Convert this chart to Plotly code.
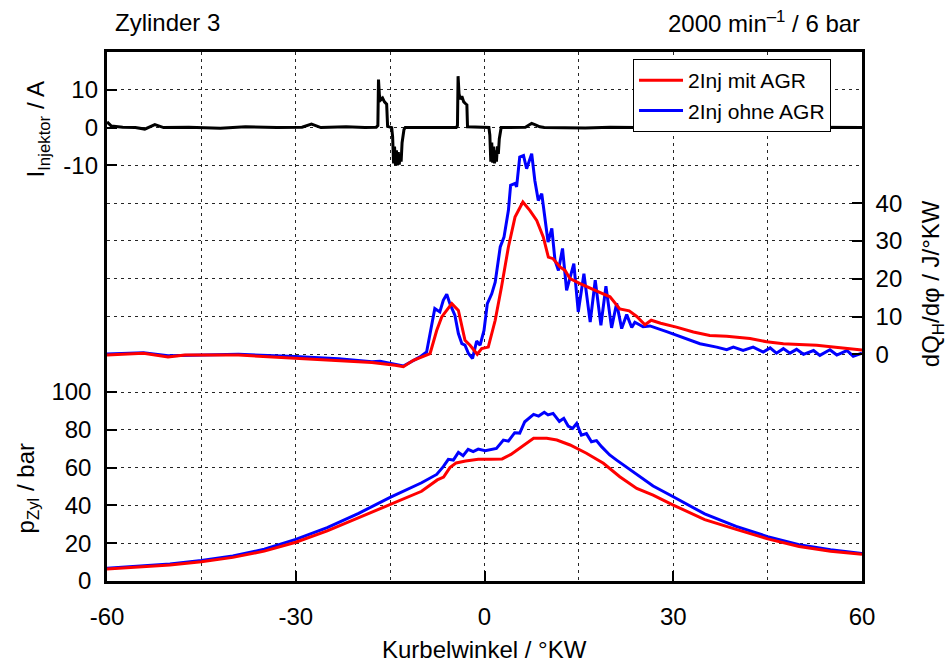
import plotly.graph_objects as go

# ---- Injektorstrom (Zylinder 3) ----
inj_deg = [-60, -59.3, -57.5, -55.5, -54.0, -52.4, -51.0, -47, -42, -38, -33, -29, -27.5, -26, -22, -19,
           -17.2, -16.95, -16.85, -16.7, -16.5, -16.2, -15.9, -15.55, -15.4, -14.75, -14.6, -14.45, -14.3,
           -14.15, -14.0, -13.85, -13.7, -13.55, -13.4, -13.25, -13.1, -12.95, -12.8, -12.6, -9, -6, -4.5,
           -4.3, -4.2, -4.05, -3.85, -3.6, -3.3, -3.0, -2.8, -2.7, -1.0, 0.7, 0.85, 1.0, 1.15, 1.3, 1.45,
           1.6, 1.75, 1.9, 2.05, 2.2, 2.35, 2.5, 2.65, 4, 6.5, 7.2, 7.5, 8.0, 8.8, 9.5, 12, 16, 20, 24, 28,
           33, 38, 42, 45.5, 46.5, 47.5, 48.5, 49.5, 52, 56, 60]
inj_val = [1.5, 0.4, 0.1, 0, -0.4, 0.8, 0, 0.1, -0.2, 0.2, 0, 0.1, 0.9, 0, 0.2, 0,
           0.1, 0.5, 12.7, 8.5, 7.3, 7.8, 6.8, 6.2, 0.3, 0, -2.5, -9.5, -5,
           -10, -6, -10, -6.5, -9.8, -7, -9, -4, -2.5, -0.5, 0, 0, 0.1, 0,
           0.5, 13.6, 9, 7.5, 8.3, 6.8, 6.3, 6.0, 0.2, 0, 0, -2, -9, -4, -9.3, -5,
           -9.5, -6, -9, -5, -7, -3, -1.5, 0, 0, 0.1, 0.8, 1.1, 0.8, 0.2, 0, 0, -0.1, 0.1, 0, 0.1,
           0, -0.1, 0.1, 0, 0.4, -0.2, 0.3, 0, 0.1, 0, 0]

# ---- Heizverlauf dQH/dphi, 2Inj mit AGR ----
dq_mit_deg = [-60, -54.2, -50.3, -47.6, -39.1, -30.1, -23.2, -17.9, -14.2, -12.9, -11.3, -8.65, -7.6, -6.8,
              -5.2, -4.15, -3.1, -2.3, -1.15, -0.45, 0.6, 1.7, 2.7, 3.8, 4.85, 6.1, 7.2, 8.3, 9.35, 10.15,
              10.9, 12.0, 12.8, 13.6, 15.2, 16.8, 18.4, 19.95, 21.5, 23.0, 24.2, 25.5, 26.5, 28.0, 30.5,
              33.2, 35.8, 38.5, 42.2, 44.85, 47.5, 50.0, 52.8, 55.4, 58.1, 60]
dq_mit_val = [-0.2, 0.3, -0.7, -0.2, -0.2, -1.1, -1.7, -2.2, -2.9, -3.3, -1.6, 0.2, 6.3, 9.9,
              13.4, 11.6, 3.7, 2.4, 0.0, 1.5, 1.9, 9.0, 17.8, 28.4, 36.3, 40.3, 38.1, 35.4, 31.0, 25.7,
              25.3, 23.1, 22.2, 20.0, 18.7, 17.4, 16.3, 15.2, 12.0, 11.5, 10.0, 7.8, 9.0, 8.2, 7.2,
              5.9, 5.0, 4.8, 4.2, 3.3, 2.8, 2.6, 2.4, 1.9, 1.5, 1.1]

# ---- Heizverlauf dQH/dphi, 2Inj ohne AGR ----
dq_ohne_deg = [-60, -54.2, -50.3, -39.1, -30.1, -23.2, -17.9, -16.6, -12.9, -10.25, -9.2, -8.4, -7.9, -7.1,
               -6.55, -6.0, -5.5, -4.7, -4.15, -3.6, -3.1, -2.55, -1.9, -1.25, -0.7, -0.08, 0.45, 1.15,
               1.7, 2.5, 3.1, 3.8, 4.15, 4.85, 5.1, 5.6, 6.2, 6.7, 7.5, 8.0, 8.55, 9.1, 9.6, 10.1, 10.7,
               11.2, 11.75, 12.4, 13.05, 13.6, 14.2, 14.9, 15.8, 16.8, 17.6, 18.5, 19.3, 20.2, 21.0, 21.8,
               22.6, 23.4, 23.9, 25.2, 26.3, 28.95, 31.6, 34.25, 36.9, 38.5, 39.55, 41.1, 42.7, 44.3, 45.4,
               46.4, 47.5, 48.55, 49.6, 50.7, 52.3, 53.3, 54.9, 56.0, 57.6, 58.6, 60]
dq_ohne_val = [0.1, 0.4, -0.4, 0.0, -0.6, -1.2, -2.0, -1.85, -3.1, -0.7, 0.6, 8.1, 12.1, 11.2,
               14.3, 15.9, 13.4, 10.3, 5.5, 2.8, 2.4, 0.2, -1.1, 3.5, 2.4, 6.3, 13.4, 16.0,
               19.1, 28.4, 31.0, 38.1, 44.7, 45.2, 44.3, 52.2, 52.6, 49.1, 53.1, 46.0, 40.7, 42.5, 36.3, 29.7, 33.3,
               24.9, 22.2, 28.0, 16.9, 20.4, 24.0, 11.2, 21.3, 8.5, 19.6, 7.7, 18.0, 7.0, 13.5, 6.8,
               10.5, 7.1, 8.5, 7.3, 7.5, 6.0, 4.3, 2.8, 1.9, 1.2, 1.9, 1.0, 1.9, 0.6, 1.7,
               0.3, 1.5, 0.3, 1.3, 0.0, 1.0, -0.3, 1.2, -0.2, 1.0, -0.5, 0.3]

# ---- Zylinderdruck ----
p_mit_deg = [-60, -55, -50, -45, -40, -35, -30, -25, -20, -15, -10, -7.5, -6.5, -5.5, -4.5, -3.0, -1.0,
             1.0, 2.8, 4.2, 5.6, 7.8, 9.9, 11.5, 13.6, 16.2, 18.9, 21.5, 24.2, 26.8, 30.0, 35.0,
             40.0, 45.0, 50.0, 55.0, 60]
p_mit_val = [6.4, 7.3, 8.5, 10.2, 12.5, 15.8, 20.5, 26.5, 33.5, 40.7, 47.5, 53.5, 55.0, 60.0, 62.5, 63.5, 64.4,
             64.4, 64.6, 67.0, 70.2, 75.5, 75.5, 74.6, 72.0, 67.6, 62.3, 55.2, 49.0, 45.5, 40.2, 32.5,
             27.3, 22.3, 18.3, 15.8, 14.1]

p_ohne_deg = [-60, -55, -50, -45, -40, -35, -30, -25, -20, -15, -10, -7.6, -6.55, -5.75, -4.95, -4.15, -3.4,
              -2.6, -1.8, -1.0, 0.1, 1.9, 3.0, 3.8, 4.8, 5.6, 6.4, 7.8, 8.6, 9.5, 10.1, 10.9, 11.9, 12.6,
              13.3, 14.0, 14.65, 15.4, 16.2, 17.0, 17.8, 18.6, 19.9, 21.0, 22.6, 24.7, 26.8, 30.0, 35.0,
              40.0, 45.0, 50.0, 55.0, 60]
p_ohne_val = [6.8, 7.7, 9.0, 10.8, 13.3, 16.8, 22.0, 28.3, 35.8, 44.3, 52.0, 56.4, 60.5, 64.4, 64.0, 68.1, 66.3,
              69.7, 68.5, 69.8, 69.0, 70.2, 74.6, 74.0, 78.5, 78.3, 84.3, 88.2, 87.3, 89.3, 87.9, 88.7, 84.5, 86.1,
              82.0, 80.8, 83.4, 77.2, 78.0, 73.7, 74.3, 71.1, 66.7, 64.0, 60.2, 55.2, 50.3, 44.6, 35.5,
              28.9, 23.5, 19.2, 16.5, 14.6]

x_ticks = [-60, -30, 0, 30, 60]
x_tick_text = ["-60", "-30", "0", "30", "60"]
x_grid_minor = [-45, -15, 15, 45]
p_ticks = [0, 20, 40, 60, 80, 100]
p_grid_minor = [120, 140, 160, 180, 200, 220, 240, 260]
inj_ticks = [-10, 0, 10]
inj_tick_text = ["-10", "0", "10"]
dq_ticks = [0, 10, 20, 30, 40]

RED = "#ff0000"
BLUE = "#0000ff"
FONT = "Liberation Sans, Arial, sans-serif"
FS = 24

fig = go.Figure()

# pressure traces (base axis)
fig.add_trace(go.Scatter(x=p_ohne_deg, y=p_ohne_val, mode="lines", line=dict(color=BLUE, width=3),
                         name="2Inj ohne AGR", legendgroup="ohne", showlegend=False, yaxis="y"))
fig.add_trace(go.Scatter(x=p_mit_deg, y=p_mit_val, mode="lines", line=dict(color=RED, width=3),
                         name="2Inj mit AGR", legendgroup="mit", showlegend=False, yaxis="y"))
# injector current
fig.add_trace(go.Scatter(x=inj_deg, y=inj_val, mode="lines", line=dict(color="black", width=3),
                         name="I Injektor", showlegend=False, yaxis="y2"))
# heat release rate
fig.add_trace(go.Scatter(x=dq_ohne_deg, y=dq_ohne_val, mode="lines", line=dict(color=BLUE, width=3),
                         name="2Inj ohne AGR", legendgroup="ohne", legendrank=2, yaxis="y3"))
fig.add_trace(go.Scatter(x=dq_mit_deg, y=dq_mit_val, mode="lines", line=dict(color=RED, width=3),
                         name="2Inj mit AGR", legendgroup="mit", legendrank=1, yaxis="y3"))

grid = dict(gridcolor="#262626", griddash="3px,4px", gridwidth=1)

fig.update_layout(
    width=948, height=666,
    margin=dict(l=107, r=86, t=52, b=85),
    paper_bgcolor="white", plot_bgcolor="white",
    font=dict(family=FONT, size=FS, color="black"),
    xaxis=dict(range=[-60, 60], tickmode="array", tickvals=x_ticks, ticktext=x_tick_text,
               ticks="inside", ticklen=10,
               tickwidth=2, tickcolor="black", showline=True, linecolor="black", linewidth=2.5,
               mirror=True, showgrid=True, **grid, zeroline=False, ticklabelstandoff=12,
               minor=dict(tickmode="array", tickvals=x_grid_minor, ticks="", showgrid=True, **grid)),
    yaxis=dict(range=[0, 280], tickmode="array", tickvals=p_ticks, ticks="inside", ticklen=10,
               tickwidth=2, tickcolor="black", showline=True, linecolor="black", linewidth=2.5,
               mirror=True, showgrid=True, **grid, zeroline=False, ticklabelstandoff=8,
               minor=dict(tickmode="array", tickvals=p_grid_minor, ticks="", showgrid=True, **grid)),
    yaxis2=dict(range=[-120, 20], overlaying="y", side="left", tickmode="array", tickvals=inj_ticks,
                ticktext=inj_tick_text,
                ticks="inside", ticklen=10, tickwidth=2, tickcolor="black", showline=False,
                showgrid=False, zeroline=False, ticklabelstandoff=8),
    yaxis3=dict(range=[-60, 80], overlaying="y", side="right", tickmode="array", tickvals=dq_ticks,
                ticks="inside", ticklen=10, tickwidth=2, tickcolor="black", showline=True,
                linecolor="black", linewidth=2.5, showgrid=False, zeroline=False, ticklabelstandoff=6),
    legend=dict(x=0.6967, y=0.9868, xanchor="left", yanchor="top", bgcolor="white",
                bordercolor="black", borderwidth=1, font=dict(size=21), traceorder="normal",
                tracegroupgap=0, itemwidth=44),
    showlegend=True,
)

annotations = [
    dict(text="Zylinder 3", x=0.008, y=1.0567, xref="paper", yref="paper", xanchor="left",
         yanchor="middle", showarrow=False),
    dict(text="2000 min<sup>–1</sup> / 6 bar", x=1.0, y=1.0567, xref="paper", yref="paper",
         xanchor="right", yanchor="middle", showarrow=False),
    dict(text="Kurbelwinkel / °KW", x=0.5, y=-0.130, xref="paper", yref="paper", xanchor="center",
         yanchor="middle", showarrow=False),
    dict(text="I<sub>Injektor</sub> / A", x=-0.0914, y=0.8535, xref="paper", yref="paper",
         xanchor="center", yanchor="middle", textangle=-90, showarrow=False),
    dict(text="p<sub>Zyl</sub> / bar", x=-0.106, y=0.175, xref="paper", yref="paper",
         xanchor="center", yanchor="middle", textangle=-90, showarrow=False),
    dict(text="dQ<sub>H</sub>/dφ / J/°KW", x=1.0927, y=0.563, xref="paper", yref="paper",
         xanchor="center", yanchor="middle", textangle=-90, showarrow=False),
]
fig.update_layout(annotations=annotations)

fig.write_html("out.html")
